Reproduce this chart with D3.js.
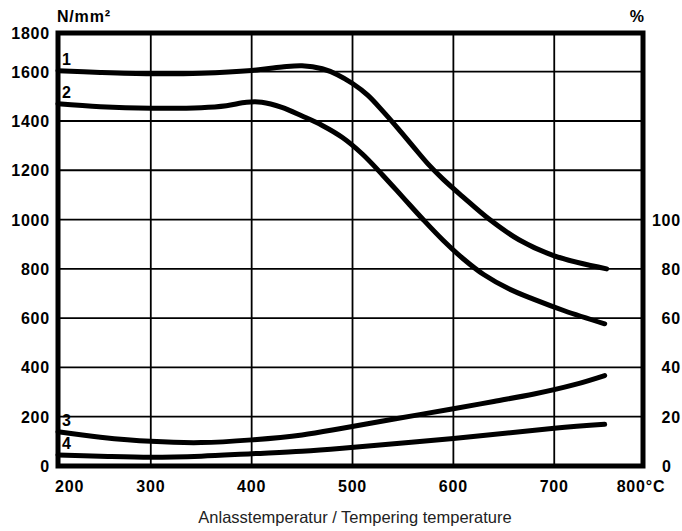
<!DOCTYPE html>
<html>
<head>
<meta charset="utf-8">
<script src="https://cdn.jsdelivr.net/npm/d3@7"></script>
<style>
  body { margin: 0; background: #fff; }
  text { font-family: "Liberation Sans", Arial, sans-serif; }
</style>
</head>
<body>
<svg></svg>
<script>
// curves: tempering temperature (°C) vs N/mm²
var curve1T = [208, 250, 300, 350, 400, 430, 450, 470, 485, 500, 515, 530, 545, 560, 575, 590, 610, 635, 665, 700, 752];
var curve1V = [1604, 1597, 1592, 1594, 1605, 1619, 1624, 1612, 1588, 1552, 1505, 1440, 1370, 1297, 1225, 1163, 1090, 1003, 918, 853, 800];
var curve2T = [208, 250, 300, 350, 375, 395, 410, 430, 450, 470, 490, 510, 530, 550, 570, 590, 610, 630, 655, 680, 710, 750];
var curve2V = [1470, 1458, 1452, 1454, 1462, 1476, 1476, 1455, 1420, 1382, 1333, 1265, 1180, 1090, 1000, 915, 840, 777, 719, 676, 630, 577];
var curve3T = [208, 250, 300, 350, 400, 450, 490, 540, 600, 640, 680, 720, 750];
var curve3V = [139, 117, 100, 95, 106, 126, 153, 190, 232, 262, 292, 330, 367];
var curve4T = [208, 250, 300, 350, 400, 450, 490, 600, 700, 750];
var curve4V = [45, 40, 36, 40, 50, 60, 72, 112, 153, 169];
var curveNames = ["1", "2", "3", "4"];

var xTicks = [300, 400, 500, 600, 700];
var xLabelVals = [200, 300, 400, 500, 600, 700, 800];
var xLabels = ["200", "300", "400", "500", "600", "700", "800°C"];
var yTicks = [200, 400, 600, 800, 1000, 1200, 1400, 1600];
var yLabelVals = [0, 200, 400, 600, 800, 1000, 1200, 1400, 1600, 1800];
var pctLabelVals = [0, 20, 40, 60, 80, 100];

var width = 682;
var height = 531;
var svg = d3.select("svg")
            .attr("width", width)
            .attr("height", height);

var x = d3.scaleLinear().domain([208, 788]).range([58, 643]).clamp(true);
var y = d3.scaleLinear().domain([0, 1757]).range([466, 33]).clamp(true);

var series = [
  {name: curveNames[0], t: curve1T, v: curve1V},
  {name: curveNames[1], t: curve2T, v: curve2V},
  {name: curveNames[2], t: curve3T, v: curve3V},
  {name: curveNames[3], t: curve4T, v: curve4V}
].map(s => ({name: s.name, pts: s.t.map((t, i) => [t, s.v[i]])}));

// grid
var grid = svg.append("g").attr("stroke", "#000").attr("stroke-width", 1.8);
grid.selectAll("line.v")
  .data(xTicks)
  .enter().append("line")
    .attr("x1", d => x(d)).attr("x2", d => x(d))
    .attr("y1", y.range()[1]).attr("y2", y.range()[0]);
grid.selectAll("line.h")
  .data(yTicks)
  .enter().append("line")
    .attr("x1", x.range()[0]).attr("x2", x.range()[1])
    .attr("y1", d => y(d)).attr("y2", d => y(d));

// curves
var line = d3.line()
  .x(d => x(d[0]))
  .y(d => y(d[1]))
  .curve(d3.curveCatmullRom.alpha(0.5));

svg.append("g")
  .selectAll("path")
  .data(series)
  .enter().append("path")
    .attr("d", d => line(d.pts))
    .attr("fill", "none")
    .attr("stroke", "#000")
    .attr("stroke-width", 5)
    .attr("stroke-linecap", "round")
    .attr("stroke-linejoin", "round");

// frame
svg.append("rect")
  .attr("x", x.range()[0]).attr("y", y.range()[1])
  .attr("width", x.range()[1] - x.range()[0])
  .attr("height", y.range()[0] - y.range()[1])
  .attr("fill", "none")
  .attr("stroke", "#000")
  .attr("stroke-width", 5);

// curve numbers
svg.append("g")
  .selectAll("text")
  .data(series)
  .enter().append("text")
    .attr("x", x(series[0].pts[0][0]) + 4)
    .attr("y", d => y(d.pts[0][1]) - 6)
    .attr("font-size", 16)
    .attr("font-weight", "bold")
    .text(d => d.name);

// left axis labels
svg.append("g")
  .selectAll("text")
  .data(yLabelVals)
  .enter().append("text")
    .attr("x", 50)
    .attr("y", d => y(d) + 6)
    .attr("text-anchor", "end")
    .attr("font-size", 16)
    .attr("font-weight", "bold")
    .attr("letter-spacing", 0.8)
    .text(d => d);

// right axis labels (%)
svg.append("g")
  .selectAll("text")
  .data(pctLabelVals)
  .enter().append("text")
    .attr("x", d => d === 0 ? 662 : 681)
    .attr("y", d => y(d * 10) + 6)
    .attr("text-anchor", d => d === 0 ? "start" : "end")
    .attr("font-size", 16)
    .attr("font-weight", "bold")
    .attr("letter-spacing", 0.8)
    .text(d => d);

// x labels
svg.append("g")
  .selectAll("text")
  .data(xLabelVals)
  .enter().append("text")
    .attr("x", (d, i) => i === 0 ? x(d) - 3 : (i === xLabelVals.length - 1 ? x(d) - 2 : x(d)))
    .attr("y", 492)
    .attr("text-anchor", (d, i) => i === 0 ? "start" : "middle")
    .attr("font-size", 16)
    .attr("font-weight", "bold")
    .attr("letter-spacing", 0.8)
    .text((d, i) => xLabels[i]);

// units
svg.append("text")
  .attr("x", 57).attr("y", 22)
  .attr("font-size", 16).attr("font-weight", "bold").attr("letter-spacing", 0.8)
  .text("N/mm²");
svg.append("text")
  .attr("x", 644).attr("y", 22)
  .attr("text-anchor", "end")
  .attr("font-size", 16).attr("font-weight", "bold")
  .text("%");

svg.append("text")
  .attr("x", 355).attr("y", 523)
  .attr("text-anchor", "middle")
  .attr("font-size", 16.5)
  .attr("fill", "#222")
  .text("Anlasstemperatur / Tempering temperature");
</script>
</body>
</html>
